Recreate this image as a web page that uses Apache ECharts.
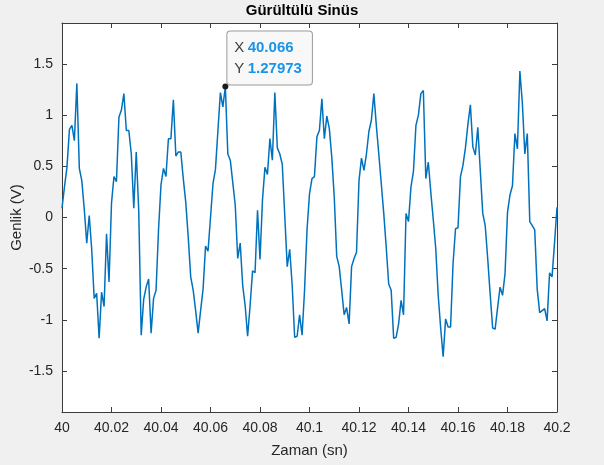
<!DOCTYPE html>
<html>
<head>
<meta charset="utf-8">
<script src="https://cdn.jsdelivr.net/npm/echarts@6/dist/echarts.min.js"></script>
<style>
  html, body { margin: 0; padding: 0; background: #f0f0f0; }
  #chart { width: 604px; height: 465px; }
</style>
</head>
<body>
<div id="chart"></div>
<script>
// Sampling: 1 kHz, 40.000 s ... 40.200 s
const t0 = 40;
const dt = 0.001;

// Measured amplitude (V), one value per sample
const genlik = [
  0.09, 0.30, 0.49, 0.86, 0.90, 0.75, 1.31, 0.48, 0.36, 0.08,
  -0.25, 0.02, -0.31, -0.79, -0.74, -1.18, -0.73, -0.87, -0.16, -0.63,
  0.14, 0.40, 0.35, 0.98, 1.05, 1.21, 0.85, 0.85, 0.62, 0.09,
  0.64, 0.07, -1.15, -0.80, -0.68, -0.60, -1.13, -0.79, -0.71, -0.12,
  0.32, 0.48, 0.40, 0.77, 0.77, 1.15, 0.60, 0.64, 0.64, 0.38,
  0.15, -0.19, -0.58, -0.71, -0.91, -1.13, -0.91, -0.70, -0.28, -0.33,
  0.00, 0.33, 0.47, 0.85, 1.22, 1.08, 1.27973, 0.62, 0.56, 0.34,
  0.12, -0.40, -0.25, -0.66, -0.86, -1.16, -0.86, -0.52, -0.54, 0.07,
  -0.41, 0.17, 0.49, 0.42, 0.77, 0.56, 1.22, 0.68, 0.62, 0.52,
  0.02, -0.48, -0.31, -0.66, -1.17, -1.16, -0.95, -1.15, -0.71, -0.12,
  0.23, 0.38, 0.40, 0.79, 0.85, 1.16, 0.77, 0.99, 0.87, 0.59,
  0.20, -0.38, -0.48, -0.71, -0.95, -0.88, -1.04, -0.48, -0.40, -0.34,
  0.36, 0.58, 0.46, 0.62, 0.84, 0.95, 1.21, 0.90, 0.62, 0.33,
  0.04, -0.29, -0.65, -0.71, -1.18, -1.17, -1.04, -0.81, -0.95, 0.04,
  -0.04, 0.30, 0.45, 0.90, 1.00, 1.21, 1.24, 0.38, 0.54, 0.25,
  -0.02, -0.30, -0.76, -1.08, -1.36, -0.99, -1.07, -1.07, -0.45, -0.11,
  -0.10, 0.40, 0.51, 0.68, 0.91, 1.10, 0.69, 0.61, 0.88, 0.46,
  0.04, -0.08, -0.40, -0.75, -1.08, -1.09, -0.88, -0.68, -0.76, -0.55,
  0.05, 0.22, 0.31, 0.82, 0.67, 1.43, 1.12, 0.62, 0.82, -0.04,
  -0.08, -0.12, -0.70, -0.93, -0.91, -0.89, -1.01, -0.54, -0.58, -0.25,
  0.10
];

// Axis ticks
const xTicks = [40, 40.02, 40.04, 40.06, 40.08, 40.1, 40.12, 40.14, 40.16, 40.18, 40.2];
const yTicks = [-1.5, -1, -0.5, 0, 0.5, 1, 1.5];

// Highlighted sample (data tip)
const tipX = 40.066;
const tipY = 1.27973;

const points = genlik.map((v, i) => [+(t0 + i * dt).toFixed(3), v]);

const FONT = '"Liberation Sans", Arial, Helvetica, sans-serif';
const AXIS_COLOR = '#3c3c3c';
const TEXT_COLOR = '#262626';

const fmt = v => String(+(+v).toFixed(2));

function xAxisDef(bottom) {
  return {
    type: 'value',
    position: bottom ? 'bottom' : 'top',
    min: 40, max: 40.2,
    name: bottom ? 'Zaman (sn)' : '',
    nameLocation: 'middle',
    nameGap: 31,
    nameMoveOverlap: false,
    nameTextStyle: { fontFamily: FONT, fontSize: 15, color: TEXT_COLOR },
    axisLine: { show: true, onZero: false, lineStyle: { color: AXIS_COLOR, width: 1 } },
    axisTick: { show: true, inside: true, length: 5, customValues: xTicks,
                lineStyle: { color: AXIS_COLOR } },
    axisLabel: { show: bottom, customValues: xTicks, formatter: fmt, margin: 9,
                 fontFamily: FONT, fontSize: 14, color: TEXT_COLOR },
    splitLine: { show: false }
  };
}

function yAxisDef(left) {
  return {
    type: 'value',
    position: left ? 'left' : 'right',
    min: -1.9, max: 1.9,
    name: left ? 'Genlik (V)' : '',
    nameLocation: 'middle',
    nameGap: 38,
    nameMoveOverlap: false,
    nameTextStyle: { fontFamily: FONT, fontSize: 15, color: TEXT_COLOR },
    axisLine: { show: true, onZero: false, lineStyle: { color: AXIS_COLOR, width: 1 } },
    axisTick: { show: true, inside: true, length: 5, customValues: yTicks,
                lineStyle: { color: AXIS_COLOR } },
    axisLabel: { show: left, customValues: yTicks, formatter: fmt, margin: 9,
                 fontFamily: FONT, fontSize: 14, color: TEXT_COLOR },
    splitLine: { show: false }
  };
}

const chart = echarts.init(document.getElementById('chart'), null, { renderer: 'canvas' });

chart.setOption({
  backgroundColor: '#f0f0f0',
  animation: false,
  title: {
    text: 'Gürültülü Sinüs',
    left: 'center',
    top: 0,
    padding: [3, 5, 0, 5],
    textStyle: { fontFamily: FONT, fontSize: 15, fontWeight: 'bold', color: '#000' }
  },
  grid: {
    left: 62, right: 47, top: 23, bottom: 53,
    outerBoundsMode: 'none',
    containLabel: false,
    show: true, backgroundColor: '#ffffff', borderWidth: 0
  },
  xAxis: [xAxisDef(true), xAxisDef(false)],
  yAxis: [yAxisDef(true), yAxisDef(false)],
  series: [{
    type: 'line',
    data: points,
    showSymbol: false,
    lineStyle: { color: '#0072bd', width: 1.5 },
    markPoint: {
      symbol: 'circle',
      symbolSize: 6,
      itemStyle: { color: '#1a1a1a' },
      data: [{
        coord: [tipX, tipY],
        label: {
          show: true,
          position: [5, -52],
          formatter: '{k|X} {v|' + tipX + '}\n{k|Y} {v|' + tipY + '}',
          backgroundColor: '#f8f8f8',
          borderColor: '#9a9a9a',
          borderWidth: 1,
          borderRadius: 3,
          padding: [6, 10, 5, 7],
          rich: {
            k: { fontFamily: FONT, fontSize: 15, color: '#404040', lineHeight: 21 },
            v: { fontFamily: FONT, fontSize: 15, fontWeight: 'bold', color: '#1a94e6', lineHeight: 21 }
          }
        }
      }]
    }
  }]
});
</script>
</body>
</html>
